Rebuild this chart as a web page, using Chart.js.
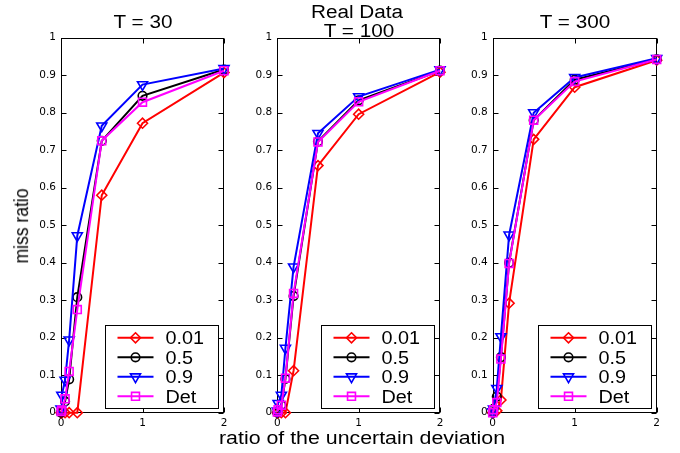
<!DOCTYPE html>
<html><head><meta charset="utf-8">
<script src="https://cdn.jsdelivr.net/npm/chart.js@4"></script>
<style>
html,body{margin:0;padding:0;background:#fff;width:680px;height:453px;overflow:hidden;}
#wrap{position:relative;width:680px;height:453px;}
canvas{position:absolute;left:0;top:0;}
.t{position:absolute;font-family:"Liberation Sans",Arial,sans-serif;color:#000;white-space:nowrap;line-height:1;transform-origin:center center;}
</style></head><body>
<div id="wrap">
<canvas id="c1" width="680" height="453"></canvas>
<canvas id="c2" width="680" height="453"></canvas>
<canvas id="c3" width="680" height="453"></canvas>
<div class="t" style="left:142.5px;top:12.8px;font-size:18px;transform:translateX(-50%) scaleX(1.15);">T = 30</div>
<div class="t" style="left:356.5px;top:3.3px;font-size:18px;transform:translateX(-50%) scaleX(1.15);">Real Data</div>
<div class="t" style="left:359px;top:22.4px;font-size:18px;transform:translateX(-50%) scaleX(1.15);">T = 100</div>
<div class="t" style="left:574.7px;top:12.8px;font-size:18px;transform:translateX(-50%) scaleX(1.15);">T = 300</div>
<div class="t" style="left:361.5px;top:429.5px;font-size:17.5px;transform:translateX(-50%) scaleX(1.22);">ratio of the uncertain deviation</div>
<div class="t" style="left:22px;top:226px;font-size:17.5px;transform:translate(-50%,-50%) rotate(-90deg) scaleY(1.2);">miss ratio</div>
</div>
<script>
// ---- data ----
const xValues = [0, 0.01, 0.05, 0.1, 0.2, 0.5, 1, 2];
const seriesNames = ['0.01', '0.5', '0.9', 'Det'];
const xTicks = [0, 1, 2];
const yTicks = [0, 0.1, 0.2, 0.3, 0.4, 0.5, 0.6, 0.7, 0.8, 0.9, 1];

const t30_001 = [0, 0, 0, 0, 0, 0.58, 0.772, 0.907];
const t30_05  = [0, 0.005, 0.03, 0.089, 0.308, 0.725, 0.845, 0.915];
const t30_09  = [0.01, 0.047, 0.087, 0.194, 0.472, 0.765, 0.875, 0.918];
const t30_det = [0.003, 0.007, 0.037, 0.11, 0.275, 0.725, 0.828, 0.912];

const t100_001 = [0, 0, 0, 0, 0.112, 0.659, 0.796, 0.908];
const t100_05  = [0, 0.003, 0.02, 0.09, 0.311, 0.723, 0.833, 0.912];
const t100_09  = [0.005, 0.025, 0.047, 0.172, 0.389, 0.745, 0.843, 0.915];
const t100_det = [0.002, 0.008, 0.02, 0.092, 0.318, 0.722, 0.829, 0.912];

const t300_001 = [0, 0, 0.005, 0.034, 0.292, 0.729, 0.868, 0.94];
const t300_05  = [0, 0.01, 0.043, 0.148, 0.4, 0.78, 0.888, 0.942];
const t300_09  = [0.003, 0.01, 0.065, 0.203, 0.474, 0.8, 0.894, 0.945];
const t300_det = [0, 0.008, 0.027, 0.143, 0.398, 0.78, 0.883, 0.942];

// ---- styles ----
const styles = [
  {color:'#ff0000', pointStyle:'rectRot', radius:5, rotation:0, order:4},
  {color:'#000000', pointStyle:'circle', radius:4.3, rotation:0, order:3},
  {color:'#0000ff', pointStyle:'triangle', radius:5.8, rotation:180, order:2},
  {color:'#ff00ff', pointStyle:'rect', radius:5.6, rotation:0, order:1}
];

function makeDatasets(seriesList){
  return seriesList.map((vals, i) => {
    const s = styles[i];
    return {
      label: seriesNames[i],
      data: xValues.map((x, j) => ({x: x, y: vals[j]})),
      borderColor: s.color,
      backgroundColor: 'rgba(0,0,0,0)',
      borderWidth: 2,
      pointStyle: s.pointStyle,
      pointRadius: s.radius,
      pointRotation: s.rotation,
      pointBorderColor: s.color,
      pointBackgroundColor: 'rgba(0,0,0,0)',
      pointBorderWidth: 1.6,
      order: s.order,
      clip: false,
      tension: 0,
      fill: false
    };
  });
}

function drawMarker(ctx, style, x, y){
  const r = style.radius;
  ctx.beginPath();
  if (style.pointStyle === 'rectRot'){
    ctx.moveTo(x, y - r); ctx.lineTo(x + r, y); ctx.lineTo(x, y + r); ctx.lineTo(x - r, y); ctx.closePath();
  } else if (style.pointStyle === 'circle'){
    ctx.arc(x, y, r, 0, Math.PI * 2);
  } else if (style.pointStyle === 'triangle'){
    const s = Math.sin(Math.PI / 3) * r;
    ctx.moveTo(x - s, y - r / 2); ctx.lineTo(x + s, y - r / 2); ctx.lineTo(x, y + r); ctx.closePath();
  } else {
    const h = Math.SQRT1_2 * r;
    ctx.rect(x - h, y - h, 2 * h, 2 * h);
  }
  ctx.stroke();
}

const frame = {
  id: 'frame',
  beforeDatasetsDraw(chart){
    const {ctx, chartArea: a, scales: {x, y}} = chart;
    ctx.save();
    ctx.strokeStyle = '#000';
    ctx.lineWidth = 1;
    const L = Math.round(a.left) + 0.5, R = Math.round(a.right) - 0.5;
    const T = Math.round(a.top) + 0.5, B = Math.round(a.bottom) - 0.5;
    ctx.strokeRect(L, T, R - L, B - T);
    ctx.beginPath();
    yTicks.forEach(v => {
      const p = Math.round(y.getPixelForValue(v)) + 0.5;
      ctx.moveTo(L, p); ctx.lineTo(L + 5, p);
      ctx.moveTo(R, p); ctx.lineTo(R - 5, p);
    });
    xTicks.forEach(v => {
      const p = Math.round(x.getPixelForValue(v)) + 0.5;
      ctx.moveTo(p, B); ctx.lineTo(p, B - 5);
      ctx.moveTo(p, T); ctx.lineTo(p, T + 5);
    });
    ctx.stroke();
    ctx.restore();
  },
  afterDraw(chart){
    const {ctx, chartArea: a} = chart;
    const w = 113, h = 83;
    const bx = Math.round(a.right - 6 - w) + 0.5, by = Math.round(a.bottom - 4.5 - h) + 0.5;
    ctx.save();
    ctx.fillStyle = '#fff';
    ctx.fillRect(bx, by, w, h);
    ctx.strokeStyle = '#000';
    ctx.lineWidth = 1;
    ctx.strokeRect(bx, by, w, h);
    chart.data.datasets.forEach((ds, i) => {
      const s = styles[i];
      const cy = by + 12.3 + i * 19.5;
      ctx.strokeStyle = s.color;
      ctx.lineWidth = 2;
      ctx.beginPath();
      ctx.moveTo(bx + 12, cy); ctx.lineTo(bx + 48, cy);
      ctx.stroke();
      ctx.lineWidth = 1.6;
      drawMarker(ctx, s, bx + 30, cy);
      ctx.save();
      ctx.translate(bx + 60, cy + 0.358 * 18);
      ctx.scale(1.1, 1);
      ctx.fillStyle = '#000';
      ctx.font = '18px "Liberation Sans", Arial, sans-serif';
      ctx.textBaseline = 'alphabetic';
      ctx.textAlign = 'left';
      ctx.fillText(ds.label, 0, 0);
      ctx.restore();
    });
    ctx.restore();
  }
};

const tickFont = {family: '"DejaVu Sans", sans-serif', size: 10.5};

function makeChart(id, seriesList, left, right){
  const yW = 40, xH = 25, top = 37.7, bottom = 412.7;
  return new Chart(document.getElementById(id), {
    type: 'line',
    data: {datasets: makeDatasets(seriesList)},
    plugins: [frame],
    options: {
      responsive: false,
      animation: false,
      devicePixelRatio: 1,
      layout: {padding: {left: left - yW, right: 680 - right, top: top, bottom: 453 - bottom - xH}},
      plugins: {legend: {display: false}, tooltip: {enabled: false}, title: {display: false}},
      scales: {
        x: {
          type: 'linear', min: 0, max: 2,
          afterFit: s => { s.height = xH; },
          afterBuildTicks: s => { s.ticks = xTicks.map(v => ({value: v})); },
          ticks: {font: tickFont, color: '#000', padding: 4, maxRotation: 0, autoSkip: false,
                  callback: v => String(v)},
          grid: {display: false, drawTicks: false},
          border: {display: false}
        },
        y: {
          type: 'linear', min: 0, max: 1,
          afterFit: s => { s.width = yW; },
          afterBuildTicks: s => { s.ticks = yTicks.map(v => ({value: v})); },
          ticks: {font: tickFont, color: '#000', padding: 5, autoSkip: false,
                  callback: v => String(+v.toFixed(1))},
          grid: {display: false, drawTicks: false},
          border: {display: false}
        }
      }
    }
  });
}

makeChart('c1', [t30_001, t30_05, t30_09, t30_det], 61, 224);
makeChart('c2', [t100_001, t100_05, t100_09, t100_det], 277.3, 440);
makeChart('c3', [t300_001, t300_05, t300_09, t300_det], 492.7, 656.7);
</script>
</body></html>
